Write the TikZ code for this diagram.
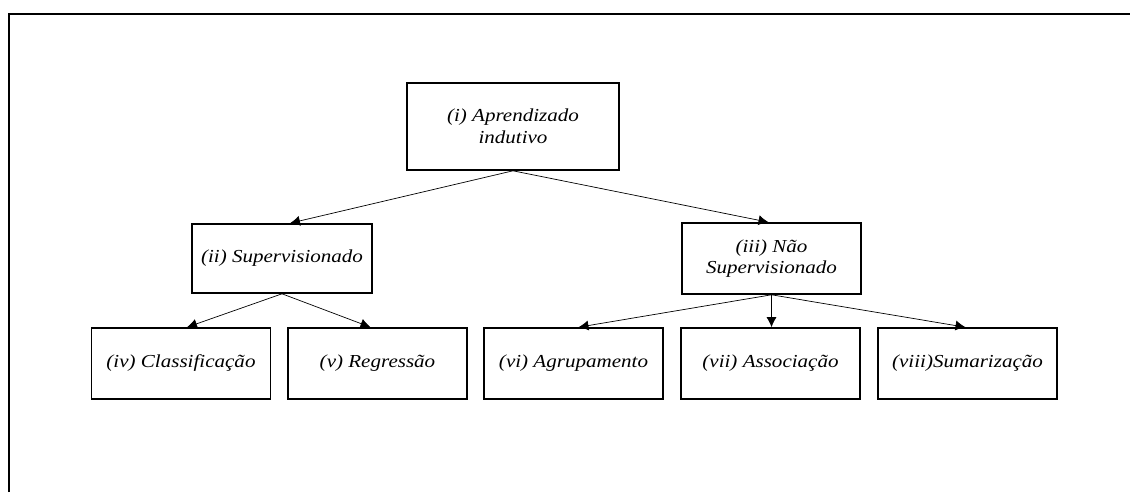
\documentclass[tikz,border=0pt]{standalone}
\usepackage{fontspec}
\setmainfont{Liberation Serif}[FakeStretch=1.15]
\usetikzlibrary{arrows.meta}
\begin{document}
\begin{tikzpicture}[x=1pt,y=-1pt,
  box/.style={draw, line width=1.6pt, minimum width=179pt, minimum height=71pt, inner sep=0pt,
    font=\fontsize{18.3}{21.5}\selectfont\itshape, align=center},
  conn/.style={line width=0.7pt, -{Latex[length=10pt,width=10pt]}}]
\useasboundingbox (0,0) rectangle (1131,492);
\draw[line width=2pt] (9,492) -- (9,14) -- (1130,14);
\node[box, minimum width=212pt, minimum height=87pt] (i) at (513,126.5) {(i) Aprendizado\\indutivo};
\node[box, minimum width=180pt, minimum height=69pt] (ii) at (282,258.5) {(ii) Supervisionado};
\node[box] (iii) at (771.5,258.5) {(iii) Não\\Supervisionado};
\node[box] (iv) at (181,363.5) {(iv) Classificação};
\node[box] (v) at (377.5,363.5) {(v) Regressão};
\node[box] (vi) at (573.5,363.5) {(vi) Agrupamento};
\node[box] (vii) at (770.5,363.5) {(vii) Associação};
\node[box] (viii) at (967.5,363.5) {(viii)Sumarização};
\draw[conn] (i.south) -- ([xshift=8pt]ii.north);
\draw[conn] (i.south) -- ([xshift=-3pt]iii.north);
\draw[conn] (ii.south) -- ([xshift=6pt]iv.north);
\draw[conn] (ii.south) -- ([xshift=-7pt]v.north);
\draw[conn] (iii.south) -- ([xshift=5pt]vi.north);
\draw[conn] (iii.south) -- (vii.north -| iii.south);
\draw[conn] (iii.south) -- ([xshift=-2pt]viii.north);
\end{tikzpicture}
\end{document}
